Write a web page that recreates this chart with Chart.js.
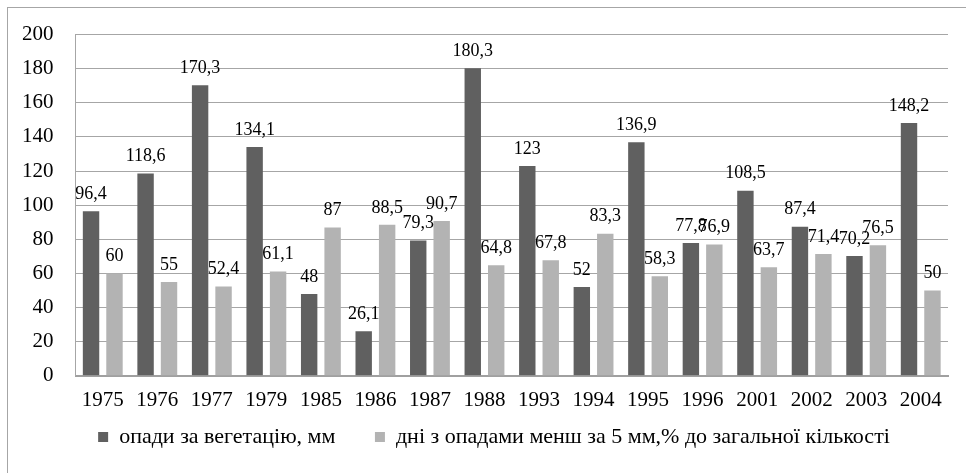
<!DOCTYPE html>
<html>
<head>
<meta charset="utf-8">
<script src="https://cdn.jsdelivr.net/npm/chart.js@4"></script>
<style>
  html, body { margin: 0; padding: 0; background: #fff; }
  #wrap { position: relative; width: 966px; height: 473px; }
  #frame { position: absolute; left: 7px; top: 7px; right: 0; bottom: 0; border-left: 1px solid #a6a6a6; border-top: 1px solid #a6a6a6; }
  canvas { position: absolute; left: 0; top: 0; }
</style>
</head>
<body>
<div id="wrap">
  <div id="frame"></div>
  <canvas id="chart" width="966" height="473"></canvas>
</div>
<script>
// years
const years = ['1975', '1976', '1977', '1979', '1985', '1986', '1987', '1988', '1993', '1994', '1995', '1996', '2001', '2002', '2003', '2004'];
// опади за вегетацію, мм
const rainfall = [96.4, 118.6, 170.3, 134.1, 48, 26.1, 79.3, 180.3, 123, 52, 136.9, 77.8, 108.5, 87.4, 70.2, 148.2];
// дні з опадами менш за 5 мм, %
const lightDays = [60, 55, 52.4, 61.1, 87, 88.5, 90.7, 64.8, 67.8, 83.3, 58.3, 76.9, 63.7, 71.4, 76.5, 50];
const seriesNames = ['опади за вегетацію, мм', 'дні з опадами менш за 5 мм,% до загальної кількості'];

const FONT = '"Liberation Serif", serif';
Chart.defaults.font.family = FONT;

// value labels above bars, comma decimals
const valueLabels = {
    id: 'valueLabels',
    afterLayout(chart) {
        // legend sits a bit right of centre in the original
        chart.legend.left += 20;
        chart.legend.right += 20;
    },
    afterDatasetsDraw(chart) {
        const ctx = chart.ctx;
        ctx.save();
        ctx.font = '18px ' + FONT;
        ctx.fillStyle = '#000';
        ctx.textAlign = 'center';
        ctx.textBaseline = 'middle';
        chart.data.datasets.forEach((ds, i) => {
            chart.getDatasetMeta(i).data.forEach((bar, j) => {
                const txt = String(ds.data[j]).replace('.', ',');
                ctx.fillText(txt, bar.x, bar.y - 17);
            });
        });
        ctx.restore();
    }
};

function draw() {
    new Chart(document.getElementById('chart'), {
        type: 'bar',
        data: {
            labels: years,
            datasets: [
                { label: seriesNames[0], data: rainfall, backgroundColor: '#606060' },
                { label: seriesNames[1], data: lightDays, backgroundColor: '#b3b3b3' }
            ]
        },
        options: {
            responsive: false,
            animation: false,
            categoryPercentage: 0.86,
            barPercentage: 0.7,
            layout: { padding: { top: 32, left: 0, right: 18, bottom: 15 } },
            plugins: {
                legend: {
                    position: 'bottom',
                    labels: {
                        color: '#000',
                        font: { family: FONT, size: 22 },
                        boxWidth: 10,
                        boxHeight: 10,
                        padding: 1,
                        generateLabels(chart) {
                            const items = Chart.defaults.plugins.legend.labels.generateLabels(chart);
                            items[0].text += '       ';
                            return items;
                        }
                    }
                },
                tooltip: { enabled: false }
            },
            scales: {
                x: {
                    grid: { display: false, drawTicks: false },
                    border: { color: '#a0a0a0', width: 2 },
                    ticks: { color: '#000', font: { family: FONT, size: 21 }, padding: 12, maxRotation: 0 }
                },
                y: {
                    min: 0,
                    max: 200,
                    ticks: { stepSize: 20, color: '#000', font: { family: FONT, size: 21 }, padding: 22 },
                    grid: { color: '#a6a6a6', drawTicks: false },
                    border: { color: '#a6a6a6' }
                }
            }
        },
        plugins: [valueLabels]
    });
}

document.fonts.load('21px "Liberation Serif"').then(draw, draw);
</script>
</body>
</html>
